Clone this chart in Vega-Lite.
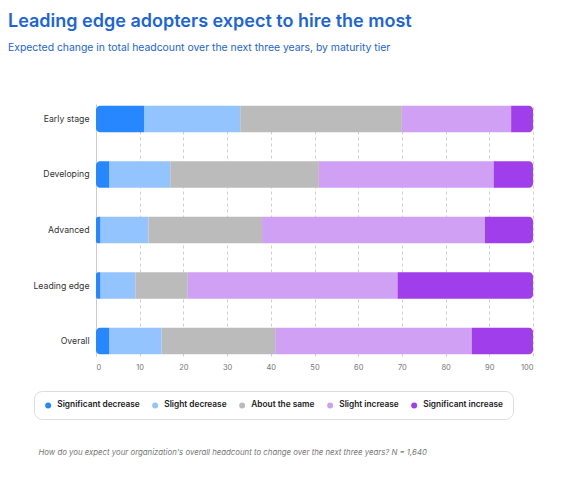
{
  "$schema": "https://vega.github.io/schema/vega-lite/v6.json",
  "width": 437,
  "height": 252,
  "autosize": {"type": "none"},
  "padding": {"left": 96, "top": 104, "right": 43, "bottom": 126},
  "background": "#ffffff",
  "title": {
    "text": "Leading edge adopters expect to hire the most",
    "subtitle": "Expected change in total headcount over the next three years, by maturity tier",
    "anchor": "start",
    "align": "left",
    "frame": "group",
    "dx": -88,
    "offset": 51,
    "font": "Inter",
    "fontSize": 18,
    "fontWeight": 600,
    "color": "#1c64da",
    "subtitleFont": "Inter",
    "subtitleFontSize": 10.4,
    "subtitleColor": "#1c64da",
    "subtitlePadding": 12
  },
  "config": {
    "view": {"stroke": null},
    "font": "Inter"
  },
  "data": {
    "values": [
      {"tier": "Early stage", "change": "Significant decrease", "pct": 11},
      {"tier": "Early stage", "change": "Slight decrease", "pct": 22},
      {"tier": "Early stage", "change": "About the same", "pct": 37},
      {"tier": "Early stage", "change": "Slight increase", "pct": 25},
      {"tier": "Early stage", "change": "Significant increase", "pct": 5},
      {"tier": "Developing", "change": "Significant decrease", "pct": 3},
      {"tier": "Developing", "change": "Slight decrease", "pct": 14},
      {"tier": "Developing", "change": "About the same", "pct": 34},
      {"tier": "Developing", "change": "Slight increase", "pct": 40},
      {"tier": "Developing", "change": "Significant increase", "pct": 9},
      {"tier": "Advanced", "change": "Significant decrease", "pct": 1},
      {"tier": "Advanced", "change": "Slight decrease", "pct": 11},
      {"tier": "Advanced", "change": "About the same", "pct": 26},
      {"tier": "Advanced", "change": "Slight increase", "pct": 51},
      {"tier": "Advanced", "change": "Significant increase", "pct": 11},
      {"tier": "Leading edge", "change": "Significant decrease", "pct": 1},
      {"tier": "Leading edge", "change": "Slight decrease", "pct": 8},
      {"tier": "Leading edge", "change": "About the same", "pct": 12},
      {"tier": "Leading edge", "change": "Slight increase", "pct": 48},
      {"tier": "Leading edge", "change": "Significant increase", "pct": 31},
      {"tier": "Overall", "change": "Significant decrease", "pct": 3},
      {"tier": "Overall", "change": "Slight decrease", "pct": 12},
      {"tier": "Overall", "change": "About the same", "pct": 26},
      {"tier": "Overall", "change": "Slight increase", "pct": 45},
      {"tier": "Overall", "change": "Significant increase", "pct": 14}
    ]
  },
  "transform": [
    {"calculate": "indexof(['Significant decrease','Slight decrease','About the same','Slight increase','Significant increase'], datum.change)", "as": "k"},
    {"stack": "pct", "groupby": ["tier"], "sort": [{"field": "k", "order": "ascending"}], "as": ["x0", "x1"]}
  ],
  "encoding": {
    "y": {
      "field": "tier",
      "type": "nominal",
      "sort": ["Early stage", "Developing", "Advanced", "Leading edge", "Overall"],
      "scale": {"paddingInner": 0.52, "paddingOuter": 0.03},
      "axis": {
        "title": null,
        "ticks": false,
        "domain": true,
        "domainColor": "#cccccc",
        "domainWidth": 1,
        "labelFont": "Inter",
        "labelFontSize": 8.7,
        "labelColor": "#333333",
        "labelPadding": 7
      }
    },
    "x": {
      "field": "x0",
      "type": "quantitative",
      "scale": {"domain": [0, 100], "nice": false},
      "axis": {
        "values": [0, 10, 20, 30, 40, 50, 60, 70, 80, 90, 100],
        "domain": false,
        "ticks": false,
        "grid": true,
        "gridColor": "#cfcfcf",
        "gridDash": [3, 3],
        "gridWidth": 1,
        "labelFont": "Inter",
        "labelFontSize": 7.5,
        "labelColor": "#777777",
        "labelPadding": 7,
        "title": "How do you expect your organization's overall headcount to change over the next three years? N = 1,640",
        "titleFont": "Inter",
        "titleFontSize": 7.8,
        "titleFontStyle": "italic",
        "titleFontWeight": "normal",
        "titleColor": "#777777",
        "titleAnchor": "start",
        "titleAlign": "left",
        "titleBaseline": "middle",
        "titleX": -58,
        "titleY": 96
      }
    },
    "x2": {"field": "x1"},
    "color": {
      "field": "change",
      "type": "nominal",
      "scale": {
        "domain": ["Significant decrease", "Slight decrease", "About the same", "Slight increase", "Significant increase"],
        "range": ["#2787ff", "#93c4fd", "#bbbbbb", "#d0a0f4", "#a13eeb"]
      },
      "legend": {
        "orient": "none",
        "direction": "horizontal",
        "legendX": -62,
        "legendY": 287,
        "title": null,
        "padding": 10,
        "fillColor": "#ffffff",
        "strokeColor": "#dddddd",
        "cornerRadius": 8,
        "symbolType": "circle",
        "symbolSize": 36,
        "symbolStrokeWidth": 0,
        "labelFont": "Inter",
        "labelFontSize": 8.3,
        "labelFontWeight": 600,
        "labelColor": "#222222",
        "labelOffset": 5,
        "columnPadding": 11
      }
    }
  },
  "layer": [
    {
      "transform": [{"filter": "datum.k > 0 && datum.k < 4"}],
      "mark": {"type": "bar"}
    },
    {
      "transform": [{"filter": "datum.k == 0"}],
      "mark": {"type": "bar", "cornerRadiusTopLeft": 4, "cornerRadiusBottomLeft": 4}
    },
    {
      "transform": [{"filter": "datum.k == 4"}],
      "mark": {"type": "bar", "cornerRadiusTopRight": 4, "cornerRadiusBottomRight": 4}
    }
  ]
}
